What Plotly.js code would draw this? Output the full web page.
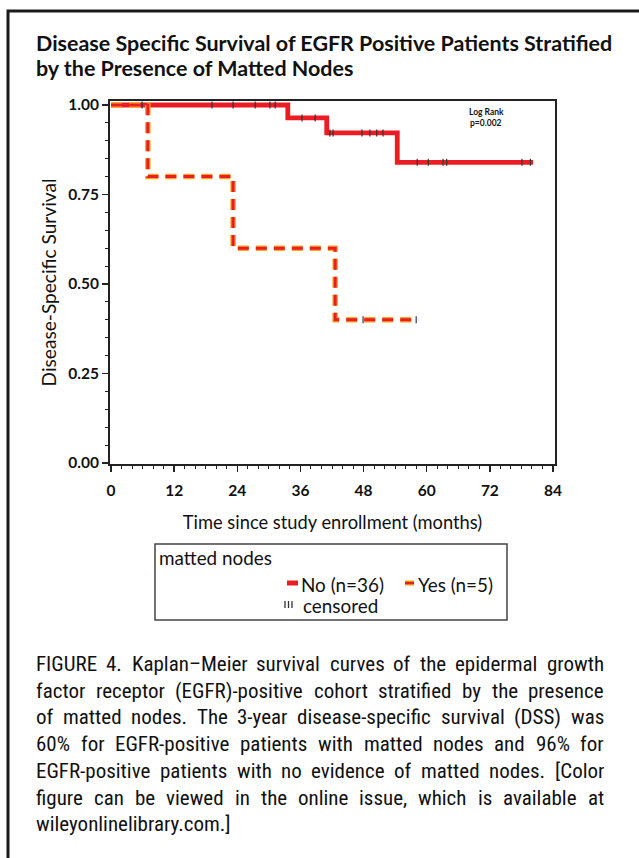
<!DOCTYPE html>
<html><head><meta charset="utf-8">
<script src="https://cdn.plot.ly/plotly-3.0.1.min.js"></script>
<style>body{margin:0;background:#fff}</style>
</head><body><div id="chart" style="width:639px;height:858px"></div>
<script>
// ---- data ----
const noTimes = [0, 33.6, 41.0, 54.4, 80.2];
const noSurv  = [1.0, 0.964, 0.922, 0.84, 0.84];
const yesTimes = [0, 7.0, 23.2, 42.6, 58.4];
const yesSurv  = [1.0, 0.8, 0.6, 0.4, 0.4];
const noCensorTimes = [5.9, 19.2, 23.2, 27.4, 30.2, 31.2, 36.3, 38.8, 41.6, 42.2, 47.7, 49.2, 50.5, 51.7, 58.2, 60.3, 63.1, 63.8, 78.1, 79.7];
const yesCensorTimes = [47.9, 58.0];
const xTickVals = [0, 12, 24, 36, 48, 60, 72, 84];
const yTickVals = [0, 0.25, 0.5, 0.75, 1.0];
const yTickText = ['0.00', '0.25', '0.50', '0.75', '1.00'];
const titleLines = ['Disease Specific Survival of EGFR Positive Patients Stratified', 'by the Presence of Matted Nodes'];
const xTitle = 'Time since study enrollment (months)';
const yTitle = 'Disease-Specific Survival';
const legendTitle = 'matted nodes';
const seriesNames = ['No (n=36)', 'Yes (n=5)'];
const censorLabel = 'censored';
const captionLines = [
  'FIGURE 4. Kaplan\u2013Meier survival curves of the epidermal growth',
  'factor receptor (EGFR)-positive cohort stratified by the presence',
  'of matted nodes. The 3-year disease-specific survival (DSS) was',
  '60% for EGFR-positive patients with matted nodes and 96% for',
  'EGFR-positive patients with no evidence of matted nodes. [Color',
  'figure can be viewed in the online issue, which is available at',
  'wileyonlinelibrary.com.]'
];

// ---- layout geometry ----
const W = 639, H = 858;
const L = 110, R = 555, T = 101, B = 464;
const pw = R - L, ph = B - T;
const px2x = p => (p - L) / pw;
const px2y = p => (B - p) / ph;

const RED = '#ec1c24', ORANGE = '#f6a81c';
const chartFont = 'Lato, "Open Sans", sans-serif';

const cv = document.createElement('canvas').getContext('2d');
function measure(text, size, family, weight) {
  cv.font = (weight || 'normal') + ' ' + size + 'px ' + family;
  return cv.measureText(text).width;
}
function fitSize(text, family, weight, target) {
  return 20 * target / measure(text, 20, family, weight);
}
function hasFont(fam) {
  const t = 'wileyonlinelibrary.com WMmiIl 0123';
  return ['monospace', 'serif'].some(b => Math.abs(measure(t, 40, '"' + fam + '", ' + b) - measure(t, 40, b)) > 0.5);
}
// pick the narrowest available condensed sans for the caption
const capCandidates = ['Liberation Sans Narrow', 'Arial Narrow', 'Nimbus Sans Narrow', 'Roboto Condensed', 'DejaVu Sans Condensed', 'Open Sans Condensed', 'Noto Sans Condensed', 'Roboto', 'Liberation Sans'];
let capFam = 'Roboto';
for (const c of capCandidates) { if (hasFont(c)) { capFam = c; break; } }
const capFont = '"' + capFam + '", sans-serif';

function survAt(times, surv, t) {
  let v = surv[0];
  for (let i = 0; i < times.length; i++) if (times[i] <= t) v = surv[i];
  return v;
}

const dashPat = '11px,7px';
const traces = [
  {x: noTimes, y: noSurv, mode: 'lines', line: {shape: 'hv', color: RED, width: 4.8}, hoverinfo: 'skip', name: seriesNames[0]},
  {x: yesTimes, y: yesSurv, mode: 'lines', line: {shape: 'hv', color: ORANGE, width: 5.5, dash: dashPat}, hoverinfo: 'skip', name: seriesNames[1]},
  {x: yesTimes, y: yesSurv, mode: 'lines', line: {shape: 'hv', color: RED, width: 3, dash: dashPat}, hoverinfo: 'skip', name: seriesNames[1]},
  {x: noCensorTimes, y: noCensorTimes.map(t => survAt(noTimes, noSurv, t)), mode: 'markers',
   marker: {symbol: 'line-ns', size: 5, line: {width: 1.2, color: '#333'}}, hoverinfo: 'skip', name: censorLabel},
  {x: yesCensorTimes, y: yesCensorTimes.map(t => survAt(yesTimes, yesSurv, t)), mode: 'markers',
   marker: {symbol: 'line-ns', size: 5, line: {width: 1.2, color: '#335'}}, hoverinfo: 'skip', name: censorLabel}
];

const annotations = [];
const shapes = [];
function ann(text, xpx, ypx, opts) {
  annotations.push(Object.assign({
    text: text, xref: 'paper', yref: 'paper', x: px2x(xpx), y: px2y(ypx),
    showarrow: false, xanchor: 'left', yanchor: 'middle', borderpad: 0,
    font: {family: chartFont, size: 14, color: '#111'}
  }, opts || {}));
}

// Title
const tSize = fitSize(titleLines[0], chartFont, 'bold', 577);
ann(titleLines[0], 35, 43, {font: {family: chartFont, size: tSize, color: '#111', weight: 700}});
ann(titleLines[1], 35, 68, {font: {family: chartFont, size: tSize, color: '#111', weight: 700}});

// Log rank note
ann('Log Rank', 486, 112, {xanchor: 'center', font: {family: chartFont, size: 8.5, color: '#111', weight: 700}});
ann('p=0.002', 486, 123, {xanchor: 'center', font: {family: chartFont, size: 8.5, color: '#111', weight: 700}});

// Legend (drawn manually)
shapes.push({type: 'rect', xref: 'paper', yref: 'paper', x0: px2x(155), x1: px2x(507), y0: px2y(544), y1: px2y(620), line: {color: '#444', width: 1.5}});
const lgSize = fitSize(seriesNames[0], chartFont, 'normal', 83);
ann(legendTitle, 158, 557, {font: {family: chartFont, size: lgSize, color: '#111'}});
shapes.push({type: 'line', xref: 'paper', yref: 'paper', x0: px2x(287), x1: px2x(298), y0: px2y(583), y1: px2y(583), line: {color: RED, width: 5}});
ann(seriesNames[0], 300, 584, {font: {family: chartFont, size: lgSize, color: '#111'}});
shapes.push({type: 'line', xref: 'paper', yref: 'paper', x0: px2x(405), x1: px2x(414), y0: px2y(583), y1: px2y(583), line: {color: ORANGE, width: 5}});
shapes.push({type: 'line', xref: 'paper', yref: 'paper', x0: px2x(405), x1: px2x(414), y0: px2y(583), y1: px2y(583), line: {color: RED, width: 2.5}});
ann(seriesNames[1], 417, 584, {font: {family: chartFont, size: lgSize, color: '#111'}});
[285, 288.5, 292].forEach(xp => shapes.push({type: 'line', xref: 'paper', yref: 'paper', x0: px2x(xp), x1: px2x(xp), y0: px2y(601), y1: px2y(608), line: {color: '#333', width: 1.3}}));
ann(censorLabel, 302, 605, {font: {family: chartFont, size: lgSize, color: '#111'}});

// Figure frame
shapes.push({type: 'rect', xref: 'paper', yref: 'paper', x0: px2x(8), x1: px2x(660), y0: px2y(11), y1: px2y(880), line: {color: '#1a1a1a', width: 3}, layer: 'below'});

// Caption, justified
const capLeft = 35, capRight = 603;
const widest = Math.max(...captionLines.slice(0, 6).map(l => measure(l, 20, capFont, 'normal')));
const capSize = Math.min(21, 20 * (capRight - capLeft - 8) / widest);
captionLines.forEach((line, i) => {
  const yc = 664 + i * 26.7;
  const font = {family: capFont, size: capSize, color: '#111'};
  if (i === captionLines.length - 1) { ann(line, capLeft, yc, {font: font}); return; }
  const words = line.split(' ');
  const widths = words.map(w => measure(w, capSize, capFont, 'normal'));
  const sum = widths.reduce((a, b) => a + b, 0);
  const gap = (capRight - capLeft - sum) / (words.length - 1);
  let cur = capLeft;
  words.forEach((w, k) => { ann(w, cur, yc, {font: font}); cur += widths[k] + gap; });
});

const tickFont = {family: chartFont, size: 15.5, color: '#111', weight: 700};
const xtSize = fitSize(xTitle, chartFont, 'normal', 300);
const ytSize = fitSize(yTitle, chartFont, 'normal', 208);
const layout = {
  width: W, height: H,
  margin: {l: L, r: W - R, t: T, b: H - B, pad: 0},
  paper_bgcolor: '#fff', plot_bgcolor: '#fff',
  showlegend: false,
  xaxis: {
    range: [-0.19, 84.38], tickvals: xTickVals, ticktext: xTickVals.map(String),
    ticks: 'outside', ticklen: 6, tickwidth: 1.5, tickcolor: '#222', ticklabelstandoff: 5,
    minor: {dtick: 2, tick0: 0, ticks: 'outside', ticklen: 3, tickwidth: 1, tickcolor: '#222'},
    showline: true, linecolor: '#222', linewidth: 2, mirror: true,
    showgrid: false, zeroline: false, tickfont: tickFont, fixedrange: true,
    title: {text: xTitle, font: {family: chartFont, size: xtSize, color: '#111'}, standoff: 19}
  },
  yaxis: {
    range: [-0.0028, 1.0112], tickvals: yTickVals, ticktext: yTickText,
    ticks: 'outside', ticklen: 6, tickwidth: 1.5, tickcolor: '#222',
    minor: {dtick: 0.05, tick0: 0, ticks: 'outside', ticklen: 3, tickwidth: 1, tickcolor: '#222'},
    showline: true, linecolor: '#222', linewidth: 2, mirror: true,
    showgrid: false, zeroline: false, tickfont: tickFont, fixedrange: true,
    title: {text: yTitle, font: {family: chartFont, size: ytSize, color: '#111'}, standoff: 7}
  },
  annotations: annotations,
  shapes: shapes
};

Plotly.newPlot('chart', traces, layout, {displayModeBar: false, staticPlot: true});
</script>
</body></html>
